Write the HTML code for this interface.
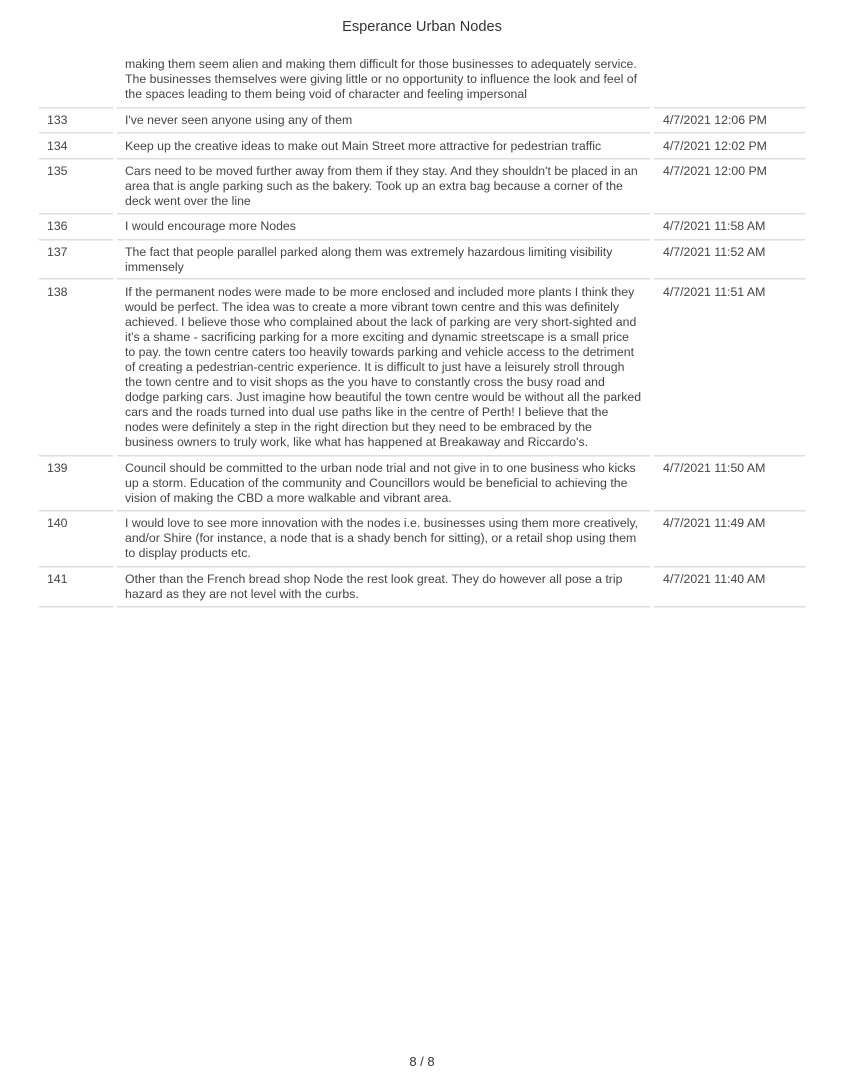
<!DOCTYPE html>
<html><head><meta charset="utf-8"><style>
body{margin:0;width:844px;height:1091px;background:#fff;position:relative;font-family:"Liberation Sans",sans-serif;color:#444;overflow:hidden}
.t{position:absolute;font-size:12.3px;line-height:15px;white-space:nowrap}
.l{position:absolute;height:1px;background:#ddd;border-bottom:1px solid #eee}
</style></head><body>
<div class="t" style="left:0;width:844px;text-align:center;top:20px;font-size:14.6px;color:#333">Esperance Urban Nodes</div>

<div class="t" style="left:125px;top:57px">making them seem alien and making them difficult for those businesses to adequately service.<br>The businesses themselves were giving little or no opportunity to influence the look and feel of<br>the spaces leading to them being void of character and feeling impersonal</div>

<div class="t" style="left:47px;top:113px">133</div><div class="t" style="left:125px;top:113px">I've never seen anyone using any of them</div><div class="t" style="left:663px;top:113px">4/7/2021 12:06 PM</div>
<div class="t" style="left:47px;top:139px">134</div><div class="t" style="left:125px;top:139px">Keep up the creative ideas to make out Main Street more attractive for pedestrian traffic</div><div class="t" style="left:663px;top:139px">4/7/2021 12:02 PM</div>
<div class="t" style="left:47px;top:164px">135</div><div class="t" style="left:125px;top:164px">Cars need to be moved further away from them if they stay. And they shouldn't be placed in an<br>area that is angle parking such as the bakery. Took up an extra bag because a corner of the<br>deck went over the line</div><div class="t" style="left:663px;top:164px">4/7/2021 12:00 PM</div>
<div class="t" style="left:47px;top:219px">136</div><div class="t" style="left:125px;top:219px">I would encourage more Nodes</div><div class="t" style="left:663px;top:219px">4/7/2021 11:58 AM</div>
<div class="t" style="left:47px;top:245px">137</div><div class="t" style="left:125px;top:245px">The fact that people parallel parked along them was extremely hazardous limiting visibility<br>immensely</div><div class="t" style="left:663px;top:245px">4/7/2021 11:52 AM</div>
<div class="t" style="left:47px;top:285px">138</div><div class="t" style="left:125px;top:285px">If the permanent nodes were made to be more enclosed and included more plants I think they<br>would be perfect. The idea was to create a more vibrant town centre and this was definitely<br>achieved. I believe those who complained about the lack of parking are very short-sighted and<br>it's a shame - sacrificing parking for a more exciting and dynamic streetscape is a small price<br>to pay. the town centre caters too heavily towards parking and vehicle access to the detriment<br>of creating a pedestrian-centric experience. It is difficult to just have a leisurely stroll through<br>the town centre and to visit shops as the you have to constantly cross the busy road and<br>dodge parking cars. Just imagine how beautiful the town centre would be without all the parked<br>cars and the roads turned into dual use paths like in the centre of Perth! I believe that the<br>nodes were definitely a step in the right direction but they need to be embraced by the<br>business owners to truly work, like what has happened at Breakaway and Riccardo's.</div><div class="t" style="left:663px;top:285px">4/7/2021 11:51 AM</div>
<div class="t" style="left:47px;top:461px">139</div><div class="t" style="left:125px;top:461px">Council should be committed to the urban node trial and not give in to one business who kicks<br>up a storm. Education of the community and Councillors would be beneficial to achieving the<br>vision of making the CBD a more walkable and vibrant area.</div><div class="t" style="left:663px;top:461px">4/7/2021 11:50 AM</div>
<div class="t" style="left:47px;top:516px">140</div><div class="t" style="left:125px;top:516px">I would love to see more innovation with the nodes i.e. businesses using them more creatively,<br>and/or Shire (for instance, a node that is a shady bench for sitting), or a retail shop using them<br>to display products etc.</div><div class="t" style="left:663px;top:516px">4/7/2021 11:49 AM</div>
<div class="t" style="left:47px;top:572px">141</div><div class="t" style="left:125px;top:572px">Other than the French bread shop Node the rest look great. They do however all pose a trip<br>hazard as they are not level with the curbs.</div><div class="t" style="left:663px;top:572px">4/7/2021 11:40 AM</div>

<div class="l" style="left:39px;width:74px;top:107px"></div><div class="l" style="left:117px;width:533px;top:107px"></div><div class="l" style="left:654px;width:151px;top:107px"></div>
<div class="l" style="left:39px;width:74px;top:132px"></div><div class="l" style="left:117px;width:533px;top:132px"></div><div class="l" style="left:654px;width:151px;top:132px"></div>
<div class="l" style="left:39px;width:74px;top:158px"></div><div class="l" style="left:117px;width:533px;top:158px"></div><div class="l" style="left:654px;width:151px;top:158px"></div>
<div class="l" style="left:39px;width:74px;top:213px"></div><div class="l" style="left:117px;width:533px;top:213px"></div><div class="l" style="left:654px;width:151px;top:213px"></div>
<div class="l" style="left:39px;width:74px;top:239px"></div><div class="l" style="left:117px;width:533px;top:239px"></div><div class="l" style="left:654px;width:151px;top:239px"></div>
<div class="l" style="left:39px;width:74px;top:278px"></div><div class="l" style="left:117px;width:533px;top:278px"></div><div class="l" style="left:654px;width:151px;top:278px"></div>
<div class="l" style="left:39px;width:74px;top:455px"></div><div class="l" style="left:117px;width:533px;top:455px"></div><div class="l" style="left:654px;width:151px;top:455px"></div>
<div class="l" style="left:39px;width:74px;top:510px"></div><div class="l" style="left:117px;width:533px;top:510px"></div><div class="l" style="left:654px;width:151px;top:510px"></div>
<div class="l" style="left:39px;width:74px;top:566px"></div><div class="l" style="left:117px;width:533px;top:566px"></div><div class="l" style="left:654px;width:151px;top:566px"></div>
<div class="l" style="left:39px;width:74px;top:606px"></div><div class="l" style="left:117px;width:533px;top:606px"></div><div class="l" style="left:654px;width:151px;top:606px"></div>

<div class="t" style="left:0;width:844px;text-align:center;top:1054px;font-size:13px;color:#333">8 / 8</div>
</body></html>
